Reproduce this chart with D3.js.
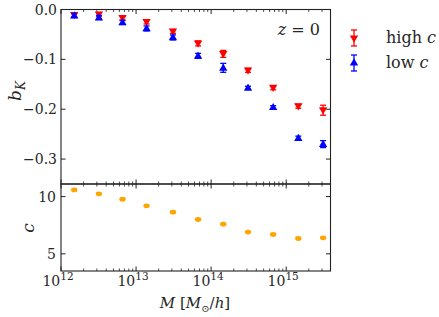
<!DOCTYPE html>
<html>
<head>
<meta charset="utf-8">
<script src="https://cdn.jsdelivr.net/npm/d3@7"></script>
<style>
  body { margin: 0; background: #fff; }
</style>
</head>
<body>
<div id="viz"></div>
<script>
// ---- data ----
var masses = [1.5e12, 3.2e12, 6.6e12, 1.38e13, 3.1e13, 6.7e13, 1.45e14, 3.1e14, 6.7e14, 1.45e15, 3.1e15];
var highC = [-0.011, -0.010, -0.017, -0.025, -0.044, -0.068, -0.089, -0.122, -0.157, -0.194, -0.202];
var highErr = [0.004, 0.004, 0.004, 0.004, 0.004, 0.005, 0.007, 0.004, 0.004, 0.004, 0.010];
var lowC = [-0.012, -0.016, -0.026, -0.038, -0.056, -0.093, -0.117, -0.157, -0.196, -0.258, -0.270];
var lowErr = [0.004, 0.004, 0.004, 0.005, 0.005, 0.005, 0.009, 0.003, 0.003, 0.004, 0.007];
var conc = [10.58, 10.24, 9.77, 9.19, 8.64, 8.0, 7.59, 6.9, 6.69, 6.34, 6.4];
var bkTicks = [0.0, -0.1, -0.2, -0.3];
var cTicks = [5, 10];
var xDecades = [12, 13, 14, 15];

var width = 439, height = 317;
var left = 61, right = 330.5;
var topY = 9.5, midY = 184, botY = 271;
var serif = "'DejaVu Serif', 'Liberation Serif', serif";
var textColor = '#262626';

var svg = d3.select("#viz").append("svg")
   .attr("width", width)
   .attr("height", height)
   .attr("font-family", serif)
   .style("font-family", serif);

var x = d3.scaleLog().domain([1e12, Math.pow(10, 15.59)]).range([left, right]);
var yTop = d3.scaleLinear().domain([-0.35, 0]).range([midY, topY]);
var yBot = d3.scaleLinear().domain([3.5, 11.1]).range([botY, midY]);

var axisColor = '#222';

// minor tick values on the log axis
var minor = [];
for (var e = 12; e <= 15; e++) {
   for (var k = 2; k <= 9; k++) {
      var v = k * Math.pow(10, e);
      if (v <= x.domain()[1]) minor.push(v);
   }
}
var major = xDecades.map(d => Math.pow(10, d));

function xTicks(y, dir) {
   // dir: +1 ticks go down, -1 ticks go up
   svg.append('g').selectAll('line.maj').data(major).enter().append('line')
      .attr('x1', d => x(d)).attr('x2', d => x(d))
      .attr('y1', y).attr('y2', y + dir * 4.5)
      .style('stroke', axisColor).style('stroke-width', 1);
   svg.append('g').selectAll('line.min').data(minor).enter().append('line')
      .attr('x1', d => x(d)).attr('x2', d => x(d))
      .attr('y1', y).attr('y2', y + dir * 2.5)
      .style('stroke', axisColor).style('stroke-width', 0.8);
}

function yTicks(scale, vals) {
   svg.append('g').selectAll('line').data(vals).enter().append('line')
      .attr('x1', left).attr('x2', left + 4.5)
      .attr('y1', d => scale(d)).attr('y2', d => scale(d))
      .style('stroke', axisColor);
   svg.append('g').selectAll('line').data(vals).enter().append('line')
      .attr('x1', right).attr('x2', right - 4.5)
      .attr('y1', d => scale(d)).attr('y2', d => scale(d))
      .style('stroke', axisColor);
}

// ticks
xTicks(topY, 1);
xTicks(midY, -1);
xTicks(midY, 1);
xTicks(botY, -1);
yTicks(yTop, bkTicks);
yTicks(yBot, cTicks);

// frames
svg.append('rect').attr('x', left).attr('y', topY)
   .attr('width', right - left).attr('height', midY - topY)
   .style('fill', 'none').style('stroke', axisColor).style('stroke-width', 1.1);
svg.append('rect').attr('x', left).attr('y', midY)
   .attr('width', right - left).attr('height', botY - midY)
   .style('fill', 'none').style('stroke', axisColor).style('stroke-width', 1.1);

// tick labels
svg.append('g').selectAll('text').data(bkTicks).enter().append('text')
   .attr('x', left - 4).attr('y', d => yTop(d) + 5)
   .attr('text-anchor', 'end')
   .style('font-size', '14px').style('fill', textColor)
   .text(d => d === 0 ? '0.0' : '\u2212' + Math.abs(d).toFixed(1));

svg.append('g').selectAll('text').data(cTicks).enter().append('text')
   .attr('x', left - 5).attr('y', d => yBot(d) + 5)
   .attr('text-anchor', 'end')
   .style('font-size', '14px').style('fill', textColor)
   .text(d => d);

var xl = svg.append('g').selectAll('text').data(xDecades).enter().append('text')
   .attr('x', d => x(Math.pow(10, d)) - 3).attr('y', 286)
   .attr('text-anchor', 'middle')
   .style('font-size', '14px').style('fill', textColor);
xl.append('tspan').text('10');
xl.append('tspan').attr('dy', -6).style('font-size', '10.5px').text(d => d);

// axis titles
svg.append('text')
   .attr('transform', `translate(21, 91) rotate(-90)`)
   .attr('text-anchor', 'middle')
   .style('font-size', '17px').style('fill', textColor)
   .call(t => {
      t.append('tspan').style('font-style', 'italic').text('b');
      t.append('tspan').attr('dy', 4).style('font-style', 'italic').style('font-size', '12px').text('K');
   });

svg.append('text')
   .attr('transform', `translate(34, 228) rotate(-90)`)
   .attr('text-anchor', 'middle')
   .style('font-size', '17px').style('fill', textColor)
   .style('font-style', 'italic')
   .text('c');

svg.append('text')
   .attr('x', 195).attr('y', 308)
   .attr('text-anchor', 'middle')
   .style('font-size', '15px').style('fill', textColor)
   .call(t => {
      t.append('tspan').style('font-style', 'italic').text('M');
      t.append('tspan').text(' [');
      t.append('tspan').style('font-style', 'italic').text('M');
      t.append('tspan').attr('dy', 4).style('font-size', '10px').text('\u2299');
      t.append('tspan').attr('dy', -4).text('/');
      t.append('tspan').style('font-style', 'italic').text('h');
      t.append('tspan').text(']');
   });

// annotation
svg.append('text')
   .attr('x', 320).attr('y', 35)
   .attr('text-anchor', 'end')
   .style('font-size', '16px').style('fill', textColor)
   .call(t => {
      t.append('tspan').style('font-style', 'italic').text('z');
      t.append('tspan').text(' = 0');
   });

// ---- error bar series ----
var tri = d3.symbol().type(d3.symbolTriangle).size(30);

function errSeries(vals, errs, color, down) {
   var pts = masses.map((m, i) => ({ m: m, v: vals[i], e: errs[i] }));
   var g = svg.append('g');
   g.selectAll('line.bar').data(pts).enter().append('line')
      .attr('x1', d => x(d.m)).attr('x2', d => x(d.m))
      .attr('y1', d => yTop(d.v - d.e)).attr('y2', d => yTop(d.v + d.e))
      .style('stroke', color).style('stroke-width', 1.3);
   [1, -1].forEach(s => {
      g.selectAll(null).data(pts).enter().append('line')
         .attr('x1', d => x(d.m) - 3).attr('x2', d => x(d.m) + 3)
         .attr('y1', d => yTop(d.v + s * d.e)).attr('y2', d => yTop(d.v + s * d.e))
         .style('stroke', color).style('stroke-width', 1.3);
   });
   g.selectAll('path').data(pts).enter().append('path')
      .attr('d', tri)
      .attr('transform', d => `translate(${x(d.m)}, ${yTop(d.v) + (down ? -0.5 : 0.5)}) rotate(${down ? 180 : 0})`)
      .style('fill', color);
}

errSeries(highC, highErr, '#ff0000', true);
errSeries(lowC, lowErr, '#0000ff', false);

// concentration points
svg.append('g').selectAll('ellipse').data(masses).enter().append('ellipse')
   .attr('cx', d => x(d))
   .attr('cy', (d, i) => yBot(conc[i]))
   .attr('rx', 3.2).attr('ry', 2.4)
   .style('fill', '#ffa500');

// ---- legend ----
var legend = [
   { label: 'high', color: '#ff0000', down: true, y: 38 },
   { label: 'low', color: '#0000ff', down: false, y: 63 }
];
var lg = svg.append('g').selectAll('g').data(legend).enter().append('g')
   .attr('transform', d => `translate(354, ${d.y})`);
lg.append('line').attr('y1', -8).attr('y2', 8)
   .style('stroke', d => d.color).style('stroke-width', 1.3);
lg.append('line').attr('x1', -3).attr('x2', 3).attr('y1', -8).attr('y2', -8)
   .style('stroke', d => d.color).style('stroke-width', 1.3);
lg.append('line').attr('x1', -3).attr('x2', 3).attr('y1', 8).attr('y2', 8)
   .style('stroke', d => d.color).style('stroke-width', 1.3);
lg.append('path').attr('d', tri)
   .attr('transform', d => `rotate(${d.down ? 180 : 0})`)
   .style('fill', d => d.color);
lg.append('text').attr('x', 32).attr('y', 5)
   .style('font-size', '16px').style('fill', textColor)
   .call(t => {
      t.append('tspan').text(d => d.label + ' ');
      t.append('tspan').style('font-style', 'italic').text('c');
   });
</script>
</body>
</html>
